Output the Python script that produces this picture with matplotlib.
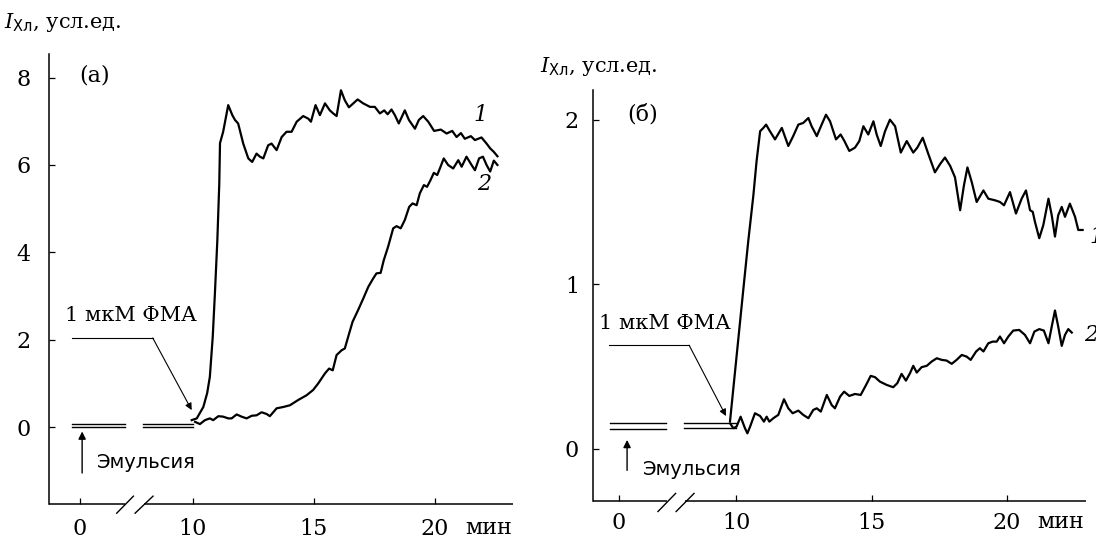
import numpy as np
import matplotlib
matplotlib.use("Agg")
import matplotlib.pyplot as plt

plt.rcParams['font.family'] = ['DejaVu Serif']
plt.rcParams['mathtext.fontset'] = 'custom'
plt.rcParams['mathtext.rm'] = 'DejaVu Serif'
plt.rcParams['mathtext.it'] = 'DejaVu Serif:italic'
plt.rcParams['mathtext.sf'] = 'DejaVu Sans'

# ---- data (time in min, intensity in arb. units) ----
base_t1 = [-0.7, 4.0]
base_t2 = [5.6, 10.0]

# panel (a), curve 1
a1_t = [9.96, 10.17, 10.44, 10.6, 10.71, 10.83, 10.92, 11.02, 11.1, 11.13, 11.26, 11.47,
        11.64, 11.75, 11.88, 12.09, 12.3, 12.46, 12.64, 12.78, 12.92, 13.12, 13.26, 13.47,
        13.68, 13.88, 14.09, 14.3, 14.57, 14.78, 14.89, 15.08, 15.26, 15.47, 15.67, 15.81,
        15.95, 16.13, 16.29, 16.46, 16.64, 16.82, 17.05, 17.33, 17.53, 17.74, 17.92, 18.06,
        18.22, 18.36, 18.52, 18.77, 18.94, 19.19, 19.35, 19.53, 19.74, 19.98, 20.26, 20.5,
        20.73, 20.91, 21.09, 21.25, 21.5, 21.67, 21.94, 22.15, 22.3, 22.45, 22.6]
a1_v = [0.16, 0.2, 0.46, 0.78, 1.15, 2.07, 3.07, 4.28, 5.58, 6.5, 6.76, 7.37,
        7.14, 7.03, 6.95, 6.49, 6.15, 6.07, 6.26, 6.19, 6.15, 6.45, 6.49, 6.34,
        6.64, 6.76, 6.76, 6.99, 7.12, 7.06, 6.99, 7.37, 7.14, 7.41, 7.25, 7.18,
        7.12, 7.71, 7.48, 7.32, 7.41, 7.5, 7.41, 7.33, 7.33, 7.18, 7.25, 7.16,
        7.27, 7.14, 6.95, 7.25, 7.03, 6.83, 7.03, 7.12, 6.99, 6.78, 6.81, 6.72,
        6.78, 6.64, 6.73, 6.6, 6.66, 6.57, 6.63, 6.49, 6.38, 6.3, 6.2]

# panel (a), curve 2
a2_t = [10.1, 10.3, 10.51, 10.71, 10.85, 11.06, 11.26, 11.47, 11.61, 11.82, 12.02, 12.23,
        12.44, 12.64, 12.85, 13.06, 13.19, 13.47, 13.74, 14.02, 14.36, 14.71, 14.98, 15.19,
        15.47, 15.64, 15.79, 15.95, 16.16, 16.29, 16.43, 16.61, 16.84, 17.05, 17.26, 17.46,
        17.6, 17.77, 17.9, 18.08, 18.29, 18.43, 18.6, 18.77, 18.95, 19.09, 19.26, 19.39,
        19.56, 19.69, 19.83, 19.97, 20.11, 20.22, 20.38, 20.56, 20.77, 20.98, 21.12, 21.32,
        21.53, 21.67, 21.84, 22.0, 22.15, 22.3, 22.45, 22.6]
a2_v = [0.12, 0.07, 0.16, 0.2, 0.16, 0.25, 0.24, 0.2, 0.2, 0.29, 0.24, 0.2,
        0.26, 0.27, 0.34, 0.3, 0.25, 0.43, 0.46, 0.5, 0.62, 0.73, 0.85, 1.0,
        1.23, 1.34, 1.3, 1.65, 1.76, 1.8, 2.07, 2.41, 2.68, 2.94, 3.21, 3.4,
        3.52, 3.53, 3.82, 4.13, 4.55, 4.6, 4.55, 4.74, 5.04, 5.12, 5.08, 5.35,
        5.54, 5.5, 5.65, 5.82, 5.77, 5.92, 6.15, 6.0, 5.92, 6.11, 5.96, 6.19,
        6.0, 5.88, 6.15, 6.19, 6.0, 5.85, 6.1, 6.0]

# panel (б), curve 1
b1_t = [9.78, 10.27, 10.45, 10.64, 10.76, 10.89, 11.01, 11.11, 11.25, 11.44, 11.69, 11.93,
        12.11, 12.3, 12.48, 12.67, 12.79, 12.98, 13.16, 13.32, 13.47, 13.69, 13.86, 14.0,
        14.18, 14.39, 14.55, 14.7, 14.88, 15.07, 15.19, 15.34, 15.5, 15.68, 15.87, 16.08,
        16.3, 16.54, 16.69, 16.89, 17.1, 17.34, 17.53, 17.71, 17.9, 18.08, 18.27, 18.41,
        18.54, 18.7, 18.88, 19.13, 19.31, 19.56, 19.74, 19.89, 20.11, 20.33, 20.54, 20.7,
        20.85, 20.95, 21.03, 21.19, 21.34, 21.53, 21.65, 21.77, 21.89, 22.02, 22.14, 22.32,
        22.51, 22.63, 22.79]
b1_v = [0.17, 0.97, 1.26, 1.54, 1.75, 1.93, 1.95, 1.97, 1.93, 1.88, 1.95, 1.84,
        1.9, 1.97, 1.98, 2.01, 1.96, 1.9, 1.97, 2.03, 1.99, 1.88, 1.91, 1.87,
        1.81, 1.83, 1.87, 1.96, 1.91, 1.99, 1.91, 1.84, 1.93, 2.0, 1.96, 1.8,
        1.87, 1.8, 1.83, 1.89, 1.79, 1.68, 1.73, 1.77, 1.72, 1.65, 1.45, 1.6,
        1.71, 1.62, 1.5, 1.57, 1.52, 1.51, 1.5, 1.48, 1.56, 1.43, 1.52, 1.57,
        1.45, 1.44, 1.38, 1.28, 1.36, 1.52, 1.42, 1.29, 1.42, 1.47, 1.41, 1.49,
        1.41, 1.33, 1.33]

# panel (б), curve 2
b2_t = [9.78, 9.9, 10.02, 10.17, 10.33, 10.42, 10.52, 10.7, 10.89, 11.03, 11.13, 11.23,
        11.38, 11.56, 11.77, 11.93, 12.09, 12.3, 12.48, 12.67, 12.85, 12.98, 13.13, 13.35,
        13.53, 13.65, 13.84, 13.99, 14.18, 14.39, 14.6, 14.8, 14.97, 15.13, 15.31, 15.56,
        15.8, 15.95, 16.11, 16.27, 16.42, 16.54, 16.67, 16.85, 17.04, 17.22, 17.41, 17.59,
        17.77, 17.96, 18.14, 18.33, 18.51, 18.66, 18.86, 19.0, 19.13, 19.31, 19.47, 19.62,
        19.74, 19.89, 20.05, 20.23, 20.45, 20.66, 20.85, 21.01, 21.19, 21.36, 21.53, 21.65,
        21.77, 21.89, 22.02, 22.14, 22.26, 22.39]
b2_v = [0.156, 0.126, 0.136, 0.196, 0.126, 0.095, 0.136, 0.217, 0.2, 0.166, 0.196, 0.166,
        0.187, 0.207, 0.302, 0.247, 0.217, 0.233, 0.207, 0.187, 0.237, 0.247, 0.227, 0.328,
        0.267, 0.247, 0.318, 0.348, 0.322, 0.334, 0.328, 0.389, 0.444, 0.436, 0.409, 0.389,
        0.375, 0.399, 0.456, 0.415, 0.46, 0.505, 0.464, 0.497, 0.505, 0.531, 0.551, 0.541,
        0.537, 0.517, 0.541, 0.571, 0.561, 0.541, 0.592, 0.612, 0.592, 0.642, 0.652, 0.652,
        0.683, 0.642, 0.683, 0.719, 0.723, 0.693, 0.642, 0.713, 0.728, 0.719, 0.642, 0.743,
        0.841, 0.743, 0.626, 0.693, 0.728, 0.707]

tick_min = [0, 10, 15, 20]
tick_lab = ["0", "10", "15", "20"]


def squeeze(t, x0):
    # broken x axis: 0..10 min drawn compressed between x0 and 10
    t = np.asarray(t, dtype=float)
    return np.where(t < 10, x0 + t * (10 - x0) / 10, t)


FS = 16

fig = plt.figure(figsize=(10.96, 5.39), dpi=100)
axL = fig.add_axes([0.0447, 0.0649, 0.4233, 0.8349])
axR = fig.add_axes([0.541, 0.0705, 0.450, 0.7625])

panels = [
    dict(ax=axL, x0=5.34, xlim=(4.06, 23.24), ylim=(-1.76, 8.54), yt=[0, 2, 4, 6, 8],
         base=[(0.0, 0.0), (0.08, 0.08)], c1=(a1_t, a1_v), c2=(a2_t, a2_v),
         tag="(а)", tagxy=(5.3, 8.05), ypad=13, xpad=10,
         fma_txt=(4.72, 2.56), fma_line=[(5.01, 2.04), (8.35, 2.04)], fma_tip=(9.96, 0.39),
         em_arrow=(5.43, -1.05, -0.1), em_txt=(6.05, -0.8), mun=21.25,
         brk=[(6.86, 7.55), (7.62, 8.36)], brk_y=(-1.97, -1.58),
         lab1=(21.6, 7.14), lab2=(21.75, 5.56)),
    dict(ax=axR, x0=5.67, xlim=(4.72, 22.92), ylim=(-0.316, 2.18), yt=[0, 1, 2],
         base=[(0.12, 0.13), (0.155, 0.16)], c1=(b1_t, b1_v), c2=(b2_t, b2_v),
         tag="(б)", tagxy=(5.98, 2.03), ypad=10, xpad=8,
         fma_txt=(4.93, 0.76), fma_line=[(5.31, 0.63), (8.27, 0.63)], fma_tip=(9.63, 0.2),
         em_arrow=(5.98, -0.13, 0.055), em_txt=(6.57, -0.125), mun=21.1,
         brk=[(7.12, 7.77), (7.79, 8.45)], brk_y=(-0.38, -0.27),
         lab1=(23.05, 1.29), lab2=(22.85, 0.69)),
]

for p in panels:
    ax = p['ax']
    x0 = p['x0']
    ax.set_xlim(*p['xlim'])
    ax.set_ylim(*p['ylim'])
    for s in ['top', 'right', 'bottom']:
        ax.spines[s].set_visible(False)
    ax.spines['left'].set_linewidth(1.1)
    ax.set_xticks(squeeze(tick_min, x0))
    ax.set_xticklabels(tick_lab)
    ax.set_yticks(p['yt'])
    ax.tick_params(axis='both', direction='in', length=4, width=0.9, labelsize=FS)
    ax.tick_params(axis='y', pad=p['ypad'])
    ax.tick_params(axis='x', pad=p['xpad'])

    # bottom axis line split by the break marks
    b0, b1 = p['brk']
    ax.plot([p['xlim'][0], (b0[0] + b0[1]) / 2], [p['ylim'][0]] * 2, color='k', lw=1.1,
            clip_on=False, solid_capstyle='butt')
    ax.plot([(b1[0] + b1[1]) / 2, p['xlim'][1]], [p['ylim'][0]] * 2, color='k', lw=1.1,
            clip_on=False, solid_capstyle='butt')
    for bx in p['brk']:
        ax.plot(bx, p['brk_y'], color='k', lw=1.0, clip_on=False)

    # double baseline before the addition
    for (ya, yb) in p['base']:
        ax.plot(squeeze(base_t1, x0), [ya, ya], color='k', lw=1.0)
        ax.plot(squeeze(base_t2, x0), [yb, yb], color='k', lw=1.0)

    ax.plot(p['c1'][0], p['c1'][1], color='k', lw=1.6)
    ax.plot(p['c2'][0], p['c2'][1], color='k', lw=1.6)

    ax.text(*p['tagxy'], p['tag'], fontsize=FS, va='center', ha='left')
    ax.text(*p['fma_txt'], "1 мкМ ФМА", fontsize=15, va='center', ha='left')
    (hx0, hy), (hx1, _) = p['fma_line']
    ax.plot([hx0, hx1], [hy, hy], color='k', lw=0.8)
    ax.annotate("", xy=p['fma_tip'], xytext=(hx1, hy),
                arrowprops=dict(arrowstyle='-|>', color='k', lw=0.8, mutation_scale=10,
                                shrinkA=0, shrinkB=0))
    ex, ey0, ey1 = p['em_arrow']
    ax.annotate("", xy=(ex, ey1), xytext=(ex, ey0),
                arrowprops=dict(arrowstyle='-|>', color='k', lw=1.0, mutation_scale=11,
                                shrinkA=0, shrinkB=0))
    ax.text(*p['em_txt'], "Эмульсия", fontsize=14, va='center', ha='left',
            family=['DejaVu Sans'])
    ax.annotate("мин", xy=(p['mun'], 0), xycoords=('data', 'axes fraction'),
                xytext=(0, -p['xpad'] - 0.73 * FS), textcoords='offset points',
                fontsize=FS, ha='left', va='baseline')
    ax.text(*p['lab1'], "1", fontsize=FS, style='italic', va='center', ha='left',
            clip_on=False)
    ax.text(*p['lab2'], "2", fontsize=FS, style='italic', va='center', ha='left',
            clip_on=False)

ylab = r"$I_{\mathsf{Хл}}$, усл.ед."
fig.text(0.004, 1 - 22 / 539, ylab, fontsize=15, va='center', ha='left')
fig.text(540 / 1096, 1 - 66 / 539, ylab, fontsize=15, va='center', ha='left')

fig.savefig("out.png", dpi=100)
